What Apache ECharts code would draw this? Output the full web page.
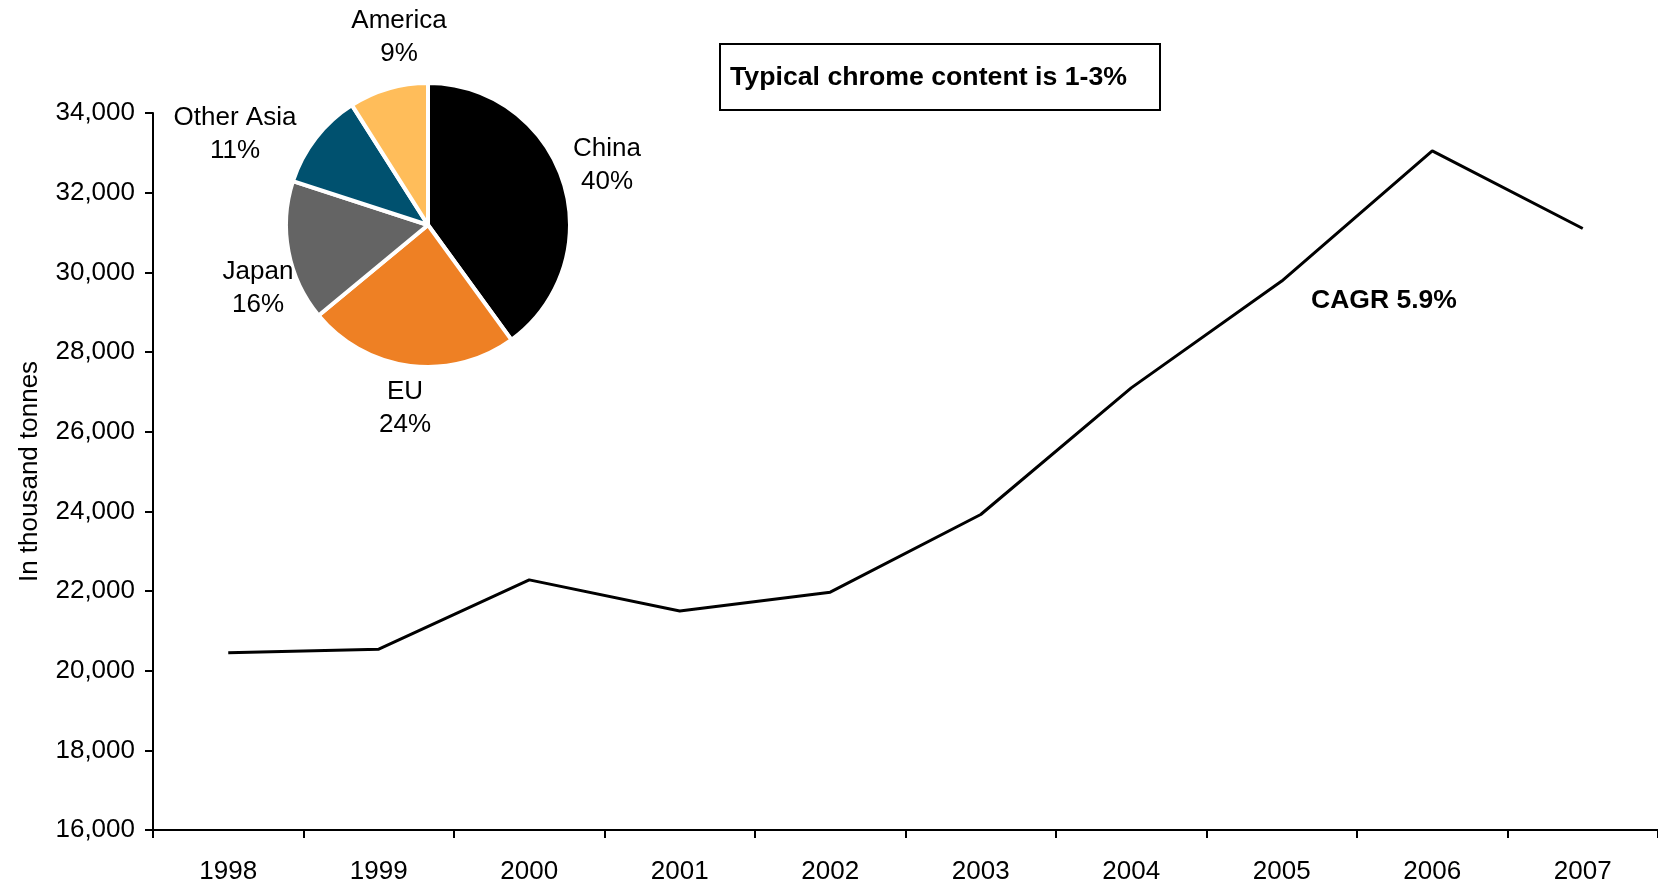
<!DOCTYPE html>
<html>
<head>
<meta charset="utf-8">
<script src="https://cdn.jsdelivr.net/npm/echarts@6/dist/echarts.min.js"></script>
<style>
  html, body { margin: 0; padding: 0; background: #fff; }
  #chart { width: 1658px; height: 885px; }
</style>
</head>
<body>
<div id="chart"></div>
<script>
// Annual output, thousand tonnes
const years = ['1998', '1999', '2000', '2001', '2002', '2003', '2004', '2005', '2006', '2007'];
const output = [20450, 20540, 22280, 21500, 21970, 23920, 27100, 29780, 33050, 31100];

// Regional share of consumption, %
const regions = ['China', 'EU', 'Japan', 'Other Asia', 'America'];
const shares = [40, 24, 16, 11, 9];
const regionColors = ['#000000', '#EE8024', '#646464', '#00516F', '#FFBD5A'];

// Label placement around the pie, relative to its centre
const pieCenter = [428, 225];
const pieLabelOffset = {
  'China': [179, -60],
  'EU': [-23, 183],
  'Japan': [-170, 63],
  'Other Asia': [-193, -91],
  'America': [-29, -188]
};

const FONT = '"Liberation Sans", Arial, Helvetica, sans-serif';

const chart = echarts.init(document.getElementById('chart'), null, { renderer: 'canvas' });

chart.setOption({
  animation: false,
  backgroundColor: '#ffffff',
  textStyle: { fontFamily: FONT, color: '#000' },
  grid: { left: 153, right: 0, top: 113, bottom: 54, containLabel: false },
  xAxis: {
    type: 'category',
    data: years,
    boundaryGap: true,
    axisLine: { show: true, lineStyle: { color: '#000', width: 2 } },
    axisTick: { show: true, alignWithLabel: false, interval: 0, length: 8, lineStyle: { color: '#000', width: 2 } },
    axisLabel: { color: '#000', fontSize: 26, fontFamily: FONT, margin: 29, interval: 0 },
    splitLine: { show: false }
  },
  yAxis: {
    type: 'value',
    min: 16000,
    max: 34000,
    interval: 2000,
    name: 'In thousand tonnes',
    nameLocation: 'middle',
    nameRotate: 90,
    nameGap: 110,
    nameTextStyle: { color: '#000', fontSize: 26, fontFamily: FONT },
    axisLine: { show: true, lineStyle: { color: '#000', width: 2 } },
    axisTick: { show: true, length: 8, lineStyle: { color: '#000', width: 2 } },
    axisLabel: {
      color: '#000', fontSize: 26, fontFamily: FONT, margin: 18,
      formatter: v => v.toLocaleString('en-US')
    },
    splitLine: { show: false }
  },
  series: [
    {
      type: 'line',
      data: output,
      symbol: 'none',
      smooth: false,
      lineStyle: { color: '#000', width: 3 },
      itemStyle: { color: '#000' },
      emphasis: { disabled: true },
      z: 3
    },
    {
      type: 'pie',
      center: pieCenter,
      radius: 142,
      startAngle: 90,
      clockwise: true,
      emphasis: { disabled: true },
      avoidLabelOverlap: false,
      itemStyle: { borderColor: '#ffffff', borderWidth: 4 },
      label: {
        show: true,
        position: 'outside',
        formatter: '{b}\n{c}%',
        color: '#000',
        fontSize: 26,
        lineHeight: 33,
        fontFamily: FONT,
        align: 'center'
      },
      labelLine: { show: false },
      labelLayout: function (params) {
        const name = regions[params.dataIndex];
        const off = pieLabelOffset[name];
        return {
          x: pieCenter[0] + off[0],
          y: pieCenter[1] + off[1],
          align: 'center',
          verticalAlign: 'middle'
        };
      },
      data: regions.map((name, i) => ({
        name: name,
        value: shares[i],
        itemStyle: { color: regionColors[i] }
      })),
      z: 4
    }
  ],
  graphic: [
    {
      type: 'group',
      left: 719,
      top: 43,
      children: [
        {
          type: 'rect',
          shape: { x: 0, y: 0, width: 440, height: 66 },
          style: { fill: '#ffffff', stroke: '#000000', lineWidth: 2 }
        },
        {
          type: 'text',
          x: 10,
          y: 34,
          style: {
            text: 'Typical chrome content is 1-3%',
            fill: '#000',
            font: 'bold 26.7px ' + FONT,
            textVerticalAlign: 'middle',
            verticalAlign: 'middle'
          }
        }
      ]
    },
    {
      type: 'text',
      left: 1311,
      top: 287,
      style: {
        text: 'CAGR 5.9%',
        fill: '#000',
        font: 'bold 26.5px ' + FONT
      }
    }
  ]
});
</script>
</body>
</html>
